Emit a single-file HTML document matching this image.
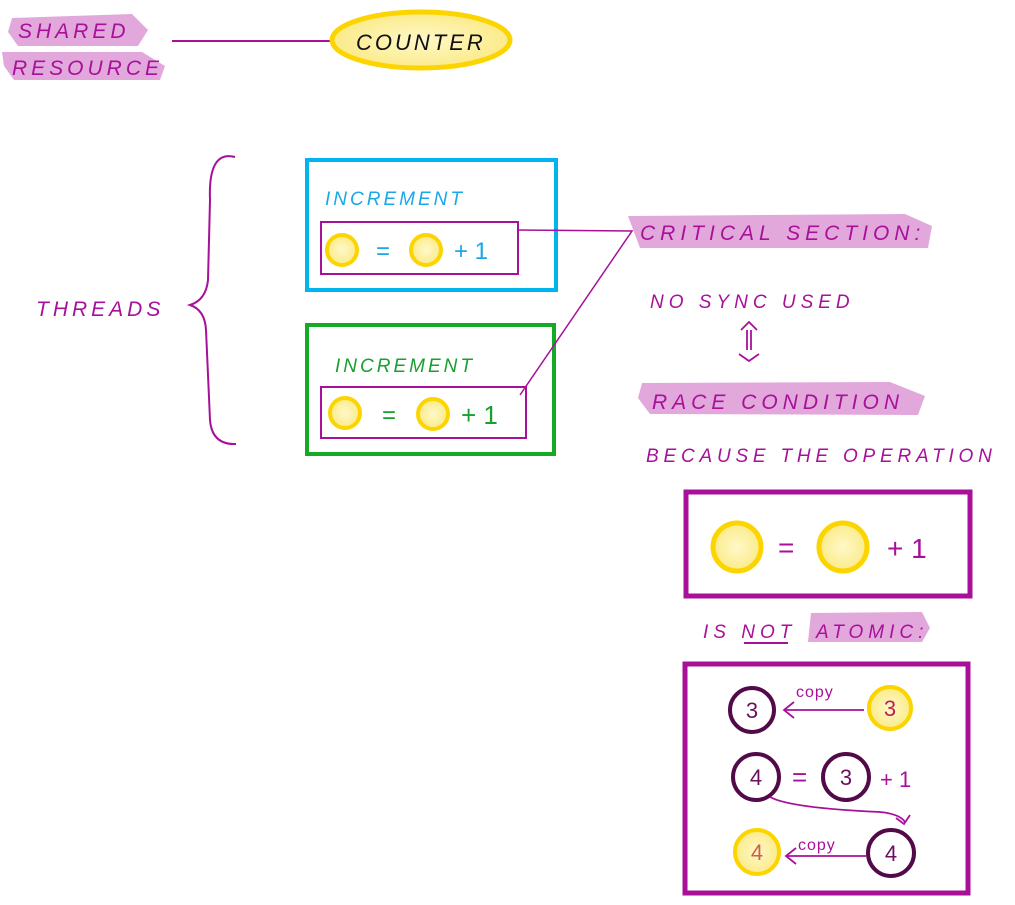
<!DOCTYPE html>
<html><head><meta charset="utf-8"><style>
html,body{margin:0;padding:0;background:#fff;}
svg{display:block}
text{font-family:"Liberation Sans",sans-serif;}
</style></head><body>
<svg width="1015" height="905" viewBox="0 0 1015 905" xmlns="http://www.w3.org/2000/svg">
<defs>
<radialGradient id="yg"><stop offset="0" stop-color="#fff8c8"/><stop offset="1" stop-color="#fbeb8a"/></radialGradient>
</defs>
<g fill="#e2a8dc">
<path d="M12 18 L132 14 L148 30 L138 46 L18 46 L8 32Z"/>
<path d="M2 52 L142 52 L165 66 L160 80 L14 80 L4 66Z"/>
<path d="M628 216 L905 214 L932 226 L928 248 L640 248 Z"/>
<path d="M642 383 L890 382 L925 396 L918 415 L650 414 L638 398Z"/>
<path d="M811 613 L922 612 L930 628 L922 642 L808 642Z"/>
</g>
<g font-size="21" fill="#a8109a" letter-spacing="4" font-style="italic">
<text x="18" y="38">SHARED</text>
<text x="12" y="75">RESOURCE</text>
<text x="36" y="316">THREADS</text>
<text x="640" y="240" letter-spacing="5">CRITICAL SECTION:</text>
<text x="650" y="308" font-size="19" letter-spacing="5">NO SYNC USED</text>
<text x="652" y="409" letter-spacing="5">RACE CONDITION</text>
<text x="646" y="462" font-size="19" letter-spacing="4.8">BECAUSE THE OPERATION</text>
<text x="703" y="638" font-size="19" letter-spacing="5">IS NOT <tspan x="816">ATOMIC:</tspan></text>
</g>
<line x1="744" y1="643" x2="788" y2="643" stroke="#a8109a" stroke-width="2"/>
<line x1="172" y1="41" x2="332" y2="41" stroke="#a8109a" stroke-width="2"/>
<ellipse cx="421" cy="40" rx="89" ry="28" fill="url(#yg)" stroke="#fcd500" stroke-width="5"/>
<text x="356" y="50" font-size="22" letter-spacing="3" fill="#111" font-style="italic">COUNTER</text>
<path d="M235 157 Q208 150 210 200 L208 280 Q206 300 190 305 Q205 310 206 330 L210 420 Q212 445 236 444" fill="none" stroke="#a8109a" stroke-width="2"/>
<rect x="307" y="160" width="249" height="130" fill="none" stroke="#00b4f0" stroke-width="4"/>
<text x="325" y="205" font-size="19" letter-spacing="3" fill="#1aa8e8" font-style="italic">INCREMENT</text>
<rect x="321" y="222" width="197" height="52" fill="none" stroke="#a8109a" stroke-width="2"/>
<circle cx="342" cy="250" r="15" fill="url(#yg)" stroke="#fcd500" stroke-width="4"/>
<circle cx="426" cy="250" r="15" fill="url(#yg)" stroke="#fcd500" stroke-width="4"/>
<text x="376" y="259" font-size="24" fill="#1aa8e8">=</text>
<text x="454" y="259" font-size="24" fill="#1aa8e8">+ 1</text>
<rect x="307" y="325" width="247" height="129" fill="none" stroke="#15aa25" stroke-width="4"/>
<text x="335" y="372" font-size="19" letter-spacing="3" fill="#18a030" font-style="italic">INCREMENT</text>
<rect x="321" y="387" width="205" height="51" fill="none" stroke="#a8109a" stroke-width="2"/>
<circle cx="345" cy="413" r="15" fill="url(#yg)" stroke="#fcd500" stroke-width="4"/>
<circle cx="433" cy="414" r="15" fill="url(#yg)" stroke="#fcd500" stroke-width="4"/>
<text x="382" y="423" font-size="24" fill="#18a030">=</text>
<text x="461" y="424" font-size="26" fill="#18a030">+ 1</text>
<polyline points="517,230 632,231 520,395" fill="none" stroke="#a8109a" stroke-width="1.5"/>
<g stroke="#a8109a" stroke-width="1.8" fill="none">
<polyline points="741,330 749,322 757,330"/>
<line x1="747" y1="330" x2="747" y2="350"/><line x1="751" y1="330" x2="751" y2="350"/>
<polyline points="739,354 749,361 759,354"/>
</g>
<rect x="686" y="492" width="284" height="104" fill="none" stroke="#a8109a" stroke-width="5"/>
<circle cx="737" cy="547" r="24" fill="url(#yg)" stroke="#fcd500" stroke-width="5"/>
<circle cx="843" cy="547" r="24" fill="url(#yg)" stroke="#fcd500" stroke-width="5"/>
<text x="778" y="557" font-size="28" fill="#a8109a">=</text>
<text x="887" y="558" font-size="28" fill="#a8109a">+ 1</text>
<rect x="685" y="664" width="283" height="229" fill="none" stroke="#a8109a" stroke-width="5"/>
<g font-size="22" text-anchor="middle">
<circle cx="752" cy="710" r="22" fill="#fff" stroke="#520a48" stroke-width="4"/><text x="752" y="718" fill="#6a1060">3</text>
<circle cx="890" cy="708" r="21" fill="url(#yg)" stroke="#fcd500" stroke-width="4"/><text x="890" y="716" fill="#c02050">3</text>
<circle cx="756" cy="777" r="23" fill="#fff" stroke="#520a48" stroke-width="4"/><text x="756" y="785" fill="#6a1060">4</text>
<circle cx="846" cy="777" r="23" fill="#fff" stroke="#520a48" stroke-width="4"/><text x="846" y="785" fill="#6a1060">3</text>
<circle cx="757" cy="852" r="22" fill="url(#yg)" stroke="#fcd500" stroke-width="4"/><text x="757" y="860" fill="#d06040">4</text>
<circle cx="891" cy="853" r="23" fill="#fff" stroke="#520a48" stroke-width="4"/><text x="891" y="861" fill="#6a1060">4</text>
</g>
<text x="792" y="786" font-size="26" fill="#a8109a">=</text>
<text x="880" y="787" font-size="22" fill="#a8109a">+ 1</text>
<g stroke="#a8109a" stroke-width="1.8" fill="none">
<line x1="864" y1="710" x2="784" y2="710"/><polyline points="794,702 784,710 794,718"/>
<line x1="866" y1="856" x2="786" y2="856"/><polyline points="796,848 786,856 796,864"/>
<path d="M770 797 Q790 808 880 812 Q900 814 905 822"/><polyline points="896,818 904,824 910,815"/>
</g>
<text x="796" y="697" font-size="16" fill="#a8109a" letter-spacing="1">copy</text>
<text x="798" y="850" font-size="16" fill="#a8109a" letter-spacing="1">copy</text>
</svg>
</body></html>
